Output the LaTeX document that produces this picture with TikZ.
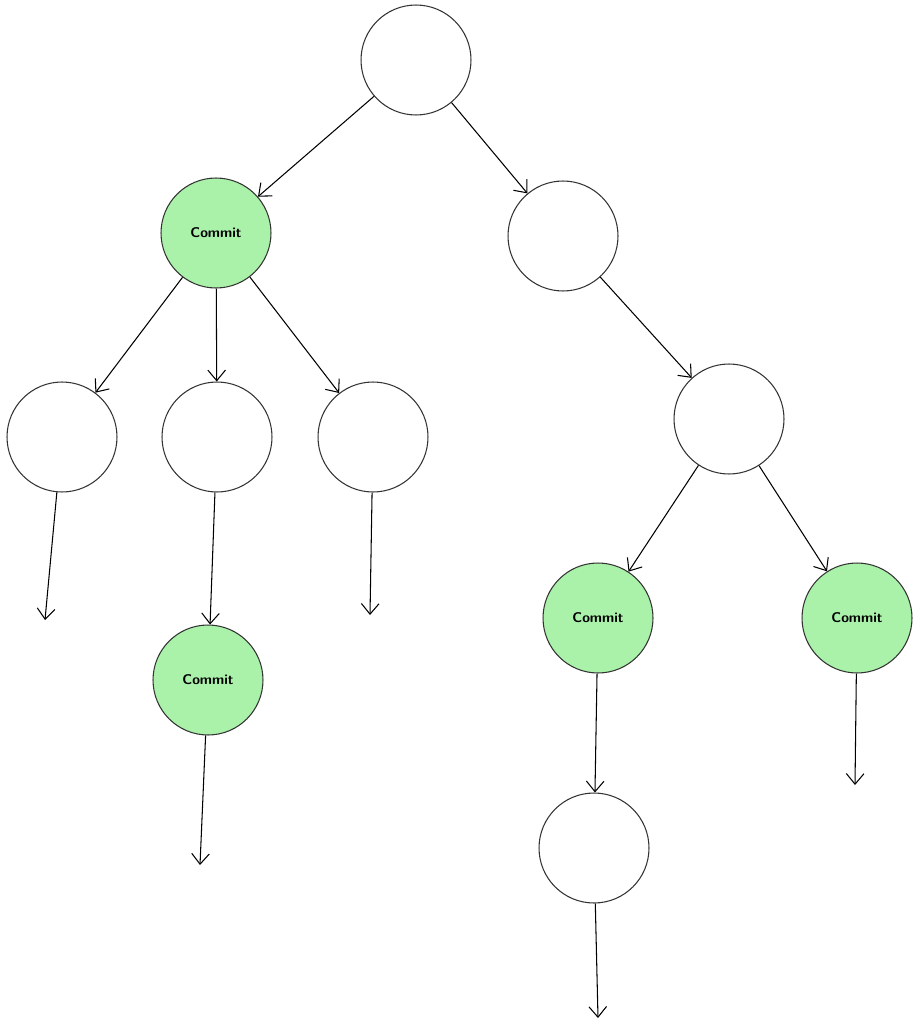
\documentclass[tikz,border=0pt]{standalone}
\usepackage{tikz}
\usetikzlibrary{arrows.meta, positioning}

\begin{document}
\begin{tikzpicture}[x=0.02cm, y=-0.02cm, ->, > = {Straight Barb[length=6pt, width=10pt]}, semithick,
  every node/.style={circle, draw=black!80, minimum size=2.2cm, inner sep=0pt},
  commit/.style={fill=green!30!white!95!black, font=\sffamily\bfseries\footnotesize}]

\useasboundingbox (0,0) rectangle (920,1024);

\node (root)	at (416,60)		{};
\node[commit] (c1)	at (216,233)	{Commit};
\node (r1)	at (563,236)		{};
\node (a)	at (62,437)		{};
\node (b)	at (217,437)		{};
\node (c)	at (373,437)		{};
\node (r2)	at (729,419)		{};
\node[commit] (g2)	at (208,680)	{Commit};
\node[commit] (g3)	at (598,618)	{Commit};
\node[commit] (g4)	at (857,618)	{Commit};
\node (d)	at (594,848)		{};

\coordinate (ea) at (45,620);
\coordinate (ec) at (370,615);
\coordinate (eg2) at (200,865);
\coordinate (ed) at (598,1018);
\coordinate (eg4) at (855,785);

\draw (root) -- (c1);
\draw (root) -- (r1);
\draw (c1) -- (a);
\draw (c1) -- (b);
\draw (c1) -- (c);
\draw (r1) -- (r2);
\draw (r2) -- (g3);
\draw (r2) -- (g4);
\draw (b) -- (g2);
\draw (g3) -- (d);
\draw (a) -- (ea);
\draw (c) -- (ec);
\draw (g2) -- (eg2);
\draw (d) -- (ed);
\draw (g4) -- (eg4);
\end{tikzpicture}
\end{document}
